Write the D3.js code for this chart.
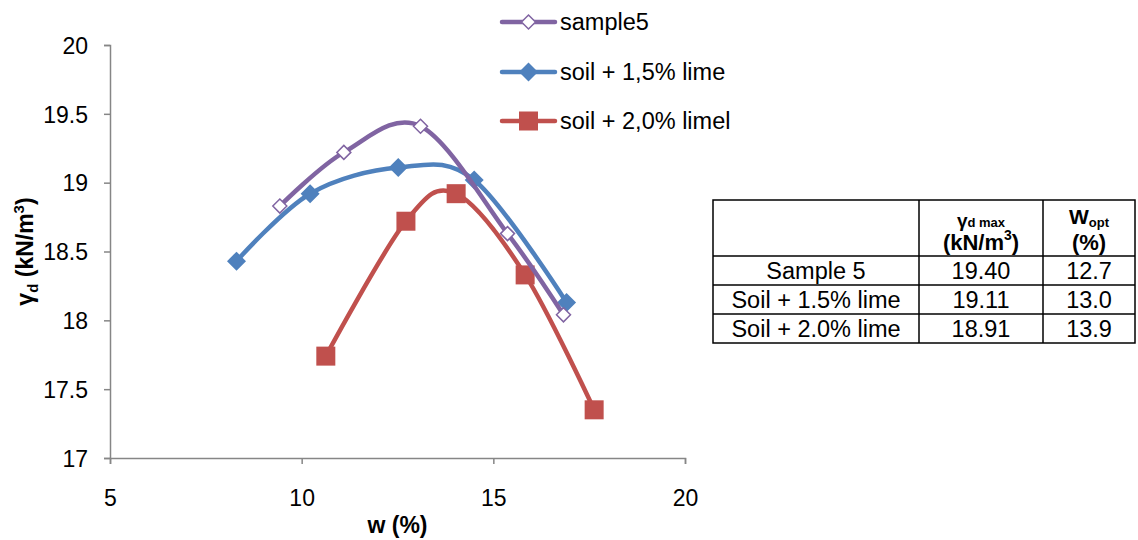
<!DOCTYPE html>
<html><head><meta charset="utf-8">
<script src="https://cdn.jsdelivr.net/npm/d3@7"></script>
<style>body{margin:0;background:#fff}svg{display:block;font-family:"Liberation Sans",Arial,sans-serif}</style>
</head><body>
<svg id="c" width="1138" height="540"></svg>
<script>
const seriesNames = ["sample5", "soil + 1,5% lime", "soil + 2,0% limel"];
const sample5W = [9.43, 11.1, 13.1, 15.37, 16.83];
const sample5G = [18.83, 19.22, 19.41, 18.63, 18.04];
const lime15W = [8.3, 10.22, 12.52, 14.5, 16.91];
const lime15G = [18.43, 18.92, 19.11, 19.02, 18.13];
const lime20W = [10.63, 12.72, 14.03, 15.83, 17.63];
const lime20G = [17.74, 18.72, 18.92, 18.33, 17.35];
const xTicks = [5, 10, 15, 20];
const yTicks = [17, 17.5, 18, 18.5, 19, 19.5, 20];
const tableRows = ["Sample 5", "Soil + 1.5% lime", "Soil + 2.0% lime"];
const tableGmax = ["19.40", "19.11", "18.91"];
const tableWopt = ["12.7", "13.0", "13.9"];

const svg = d3.select("#c");
const X0 = 110, X1 = 685, Y0 = 458, Y1 = 45;
const x = d3.scaleLinear().domain([5, 20]).range([X0, X1]);
const y = d3.scaleLinear().domain([17, 20]).range([Y0, Y1]);
const axisCol = "#868686";
const FS = 23;

// axes
const ya = svg.append("g").attr("transform", `translate(${X0},0)`)
  .call(d3.axisLeft(y).tickValues(yTicks).tickSize(6).tickFormat(d => d3.format("")(d)));
const xa = svg.append("g").attr("transform", `translate(0,${Y0})`)
  .call(d3.axisBottom(x).tickValues(xTicks).tickSize(6));
[ya, xa].forEach(g => {
  g.select(".domain").attr("stroke", axisCol).attr("stroke-width", 1.5);
  g.selectAll(".tick line").attr("stroke", axisCol).attr("stroke-width", 1.5);
  g.selectAll("text").attr("fill", "#000").attr("font-size", FS).attr("font-family", "Liberation Sans, Arial, sans-serif");
});
ya.selectAll("text").attr("x", -22).attr("dy", "0.36em");
xa.selectAll("text").attr("y", 40).attr("dy", "0.36em");

// axis titles
svg.append("text").attr("x", x(12.5)).attr("y", 533).attr("text-anchor", "middle")
  .attr("font-size", FS).attr("font-weight", "bold").text("w (%)");
const yt = svg.append("text").attr("transform", `translate(33,${(Y0+Y1)/2}) rotate(-90)`)
  .attr("text-anchor", "middle").attr("font-size", FS).attr("font-weight", "bold");
yt.append("tspan").text("γ");
yt.append("tspan").attr("font-size", 15).attr("dy", 5).text("d");
yt.append("tspan").attr("dy", -5).text(" (kN/m");
yt.append("tspan").attr("font-size", 15).attr("dy", -9).text("3");
yt.append("tspan").attr("dy", 9).text(")");

const series = [
  {name: seriesNames[0], w: sample5W, g: sample5G, color: "#8064A2", marker: "odiamond"},
  {name: seriesNames[1], w: lime15W, g: lime15G, color: "#4F81BD", marker: "diamond"},
  {name: seriesNames[2], w: lime20W, g: lime20G, color: "#C0504D", marker: "square"}
];
const line = d3.line().x(d => x(d[0])).y(d => y(d[1])).curve(d3.curveCatmullRom.alpha(0));

function drawMarker(g, type, cx, cy, color) {
  if (type === "square") {
    g.append("rect").attr("x", cx - 9.5).attr("y", cy - 9.5).attr("width", 19).attr("height", 19).attr("fill", color);
  } else if (type === "diamond") {
    const r = 9.5;
    g.append("path").attr("d", `M${cx},${cy-r}L${cx+r},${cy}L${cx},${cy+r}L${cx-r},${cy}Z`).attr("fill", color);
  } else {
    const r = 7;
    g.append("path").attr("d", `M${cx},${cy-r}L${cx+r},${cy}L${cx},${cy+r}L${cx-r},${cy}Z`)
      .attr("fill", "#fff").attr("stroke", color).attr("stroke-width", 1.5);
  }
}

const order = [2, 1, 0];
order.forEach(i => {
  const s = series[i];
  const pts = s.w.map((w, j) => [w, s.g[j]]);
  svg.append("path").datum(pts).attr("d", line).attr("fill", "none")
    .attr("stroke", s.color).attr("stroke-width", 4.5).attr("stroke-linecap", "round");
  const mg = svg.append("g");
  pts.forEach(p => drawMarker(mg, s.marker, x(p[0]), y(p[1]), s.color));
});

// legend
const legY = [22, 72, 121];
series.forEach((s, i) => {
  const g = svg.append("g");
  g.append("line").attr("x1", 502).attr("x2", 555).attr("y1", legY[i]).attr("y2", legY[i])
    .attr("stroke", s.color).attr("stroke-width", 4.5).attr("stroke-linecap", "round");
  drawMarker(g, s.marker, 528.5, legY[i], s.color);
  g.append("text").attr("x", 560).attr("y", legY[i]).attr("dy", "0.36em").attr("font-size", 23.5).text(s.name);
});

// table
const tx = [713, 919, 1043, 1135];
const ty = [200, 256, 285, 314, 343];
const tg = svg.append("g");
tg.append("rect").attr("x", tx[0]).attr("y", ty[0]).attr("width", tx[3]-tx[0]).attr("height", ty[4]-ty[0])
  .attr("fill", "none").attr("stroke", "#000").attr("stroke-width", 1.5);
[tx[1], tx[2]].forEach(v => tg.append("line").attr("x1", v).attr("x2", v).attr("y1", ty[0]).attr("y2", ty[4]).attr("stroke", "#000").attr("stroke-width", 1.5));
[ty[1], ty[2], ty[3]].forEach(v => tg.append("line").attr("x1", tx[0]).attr("x2", tx[3]).attr("y1", v).attr("y2", v).attr("stroke", "#000").attr("stroke-width", 1.5));
const c1 = (tx[1]+tx[2])/2, c2 = (tx[2]+tx[3])/2, c0 = (tx[0]+tx[1])/2;
const h1 = tg.append("text").attr("x", c1).attr("y", 227).attr("text-anchor", "middle").attr("font-weight", "bold");
h1.append("tspan").attr("font-size", 19).text("γ");
h1.append("tspan").attr("font-size", 13).text("d max");
const h2 = tg.append("text").attr("x", c1).attr("y", 250).attr("text-anchor", "middle").attr("font-weight", "bold").attr("font-size", 22);
h2.append("tspan").text("(kN/m");
h2.append("tspan").attr("font-size", 14).attr("dy", -10).text("3");
h2.append("tspan").attr("dy", 10).text(")");
const h3 = tg.append("text").attr("x", c2).attr("y", 224).attr("text-anchor", "middle").attr("font-weight", "bold");
h3.append("tspan").attr("font-size", 21).text("W");
h3.append("tspan").attr("font-size", 13).attr("dy", 3).text("opt");
tg.append("text").attr("x", c2).attr("y", 250).attr("text-anchor", "middle").attr("font-weight", "bold").attr("font-size", 22).text("(%)");
tableRows.forEach((r, i) => {
  const yy = (ty[i+1] + ty[i+2]) / 2;
  tg.append("text").attr("x", c0).attr("y", yy).attr("dy", "0.36em").attr("text-anchor", "middle").attr("font-size", 23.5).text(r);
  tg.append("text").attr("x", c1).attr("y", yy).attr("dy", "0.36em").attr("text-anchor", "middle").attr("font-size", 23.5).text(tableGmax[i]);
  tg.append("text").attr("x", c2).attr("y", yy).attr("dy", "0.36em").attr("text-anchor", "middle").attr("font-size", 23.5).text(tableWopt[i]);
});
</script>
</body></html>
